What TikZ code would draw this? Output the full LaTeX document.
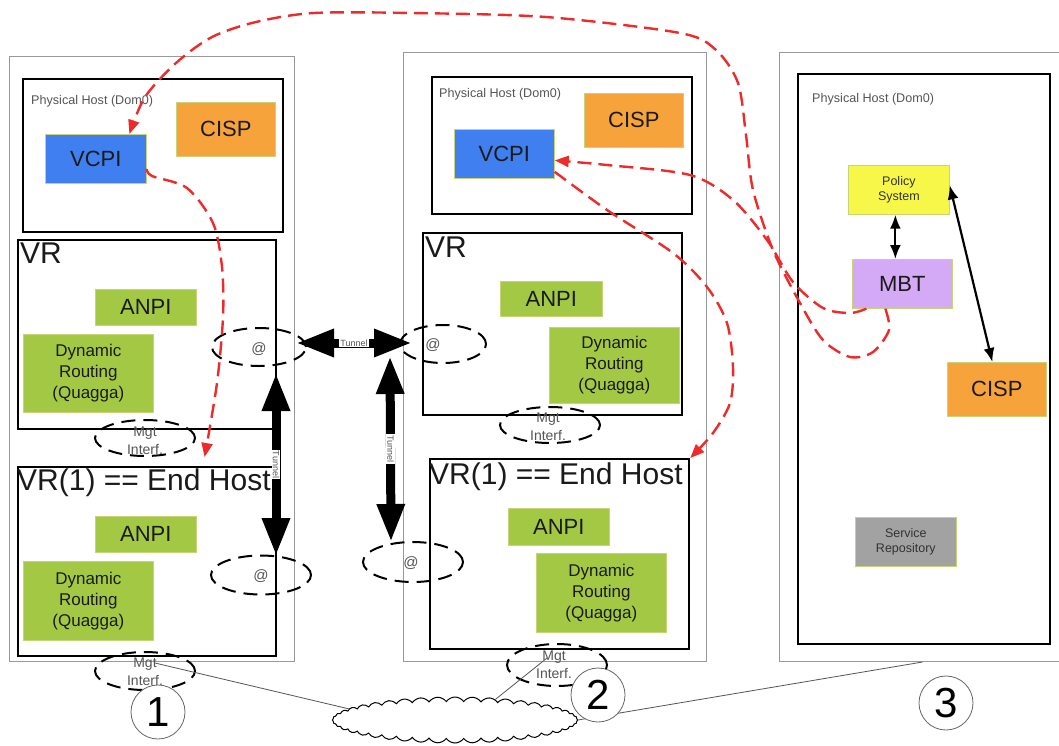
\documentclass[tikz,border=0pt]{standalone}
\usepackage{fontspec}
\setmainfont{Liberation Sans}
\usetikzlibrary{arrows.meta,shapes.geometric,shapes.symbols}
\newcommand\myfs[2]{\fontsize{#1}{#2}\selectfont}
\definecolor{vblue}{HTML}{3F7FEF}
\definecolor{corange}{HTML}{F7A33B}
\definecolor{agreen}{HTML}{A3C944}
\definecolor{pyellow}{HTML}{F7F74A}
\definecolor{mpurple}{HTML}{D4A9F5}
\definecolor{sgray}{HTML}{A2A2A2}
\definecolor{dred}{HTML}{EE2A2A}
\definecolor{txtgray}{HTML}{555555}
\definecolor{txtdark}{HTML}{1A1A1A}
\definecolor{outgray}{HTML}{999999}
\definecolor{edgeyel}{HTML}{C8D37A}
\definecolor{linegray}{HTML}{555555}
\definecolor{circgray}{HTML}{666666}
\begin{document}
\begin{tikzpicture}[x=1pt,y=-1pt,
  outerbox/.style={draw=outgray, line width=1pt, inner sep=0pt, anchor=north west},
  blkbox/.style={draw=black, line width=2.2pt, inner sep=0pt, anchor=north west},
  cbox/.style={draw=edgeyel, line width=0.7pt, inner sep=0pt, anchor=north west, text=txtdark, align=center},
  bigtxt/.style={font=\myfs{22}{26}},
  drtxt/.style={font=\myfs{17}{21}},
  smalltxt/.style={font=\myfs{12.5}{15}, text=txtgray!60!black},
  dashell/.style={ellipse, draw=black, line width=2pt, dash pattern=on 14pt off 8pt, inner sep=0pt},
  atlbl/.style={font=\myfs{15}{16}, text=txtgray, inner sep=0pt},
  mgtlbl/.style={font=\myfs{14}{18}, text=txtgray, align=center, inner sep=0pt},
  phlbl/.style={font=\myfs{12.6}{14}, text=txtgray, anchor=west, inner sep=0pt},
  ttl/.style={font=\myfs{30}{32}, anchor=base west, inner sep=0pt, text=txtdark},
  tunnel/.style={line width=9pt, {Triangle[length=38pt,width=26pt]}-{Triangle[length=38pt,width=26pt]}},
  tunlbl/.style={fill=white, inner sep=1pt, font=\myfs{9}{10}, text=txtgray},
  ctl/.style={draw=dred, line width=2.4pt, dash pattern=on 14pt off 7pt, -{Triangle[length=14pt,width=11pt]}},
  bidir/.style={line width=2.2pt, {Latex[length=14pt,width=11pt]}-{Latex[length=14pt,width=11pt]}},
  netline/.style={draw=linegray, line width=0.8pt},
  numcirc/.style={circle, draw=circgray, fill=white, line width=0.8pt, minimum size=54pt, inner sep=0pt, font=\myfs{42}{42}}
]
\useasboundingbox (0,0) rectangle (1059,745);
\fill[white] (0,0) rectangle (1059,745);

% outer hosts
\node[outerbox, minimum width=285pt, minimum height=605pt] (outA) at (9,56) {};
\node[outerbox, minimum width=303pt, minimum height=609pt] (outB) at (403,52) {};
\node[outerbox, minimum width=290pt, minimum height=609pt] (outC) at (779,52) {};

% cloud
\node[cloud, draw=black, fill=white, line width=1pt, cloud puffs=44, cloud puff arc=110, aspect=5.3, minimum width=245pt, minimum height=46pt, inner sep=0pt] (cloud) at (455,720) {};

% black boxes
\node[blkbox, minimum width=260pt, minimum height=153pt] (hostA) at (22,78) {};
\node[blkbox, minimum width=258pt, minimum height=189pt] (vrA) at (17,239) {};
\node[blkbox, minimum width=258pt, minimum height=189pt] (vrA1) at (17,466) {};
\node[blkbox, minimum width=260pt, minimum height=137pt] (hostB) at (431,76) {};
\node[blkbox, minimum width=259pt, minimum height=182pt] (vrB) at (422,232) {};
\node[blkbox, minimum width=259pt, minimum height=190pt] (vrB1) at (429,458) {};
\node[blkbox, minimum width=252pt, minimum height=570pt] (hostC) at (797,73) {};

% titles
\node[phlbl] (phA) at (31,101) {Physical Host (Dom0)};
\node[phlbl] (phB) at (439,94) {Physical Host (Dom0)};
\node[phlbl] (phC) at (812,99) {Physical Host (Dom0)};
\node[ttl] (tvrA) at (20,263) {VR};
\node[ttl] (tvrA1) at (17,490) {VR(1) == End Host};
\node[ttl] (tvrB) at (425,257) {VR};
\node[ttl] (tvrB1) at (429,484) {VR(1) == End Host};

% coloured boxes
\node[cbox, bigtxt, fill=vblue, minimum width=101pt, minimum height=49pt] (vcpiA) at (45,134) {VCPI};
\node[cbox, bigtxt, fill=corange, minimum width=99pt, minimum height=54pt] (cispA) at (176,102) {CISP};
\node[cbox, bigtxt, fill=agreen, minimum width=101pt, minimum height=36pt] (anpiA) at (95,289) {ANPI};
\node[cbox, drtxt, fill=agreen, minimum width=130pt, minimum height=78pt] (drA) at (23,334) {Dynamic\\Routing\\(Quagga)};
\node[cbox, bigtxt, fill=agreen, minimum width=101pt, minimum height=36pt] (anpiA1) at (95,516) {ANPI};
\node[cbox, drtxt, fill=agreen, minimum width=130pt, minimum height=79pt] (drA1) at (23,561) {Dynamic\\Routing\\(Quagga)};
\node[cbox, bigtxt, fill=vblue, minimum width=100pt, minimum height=49pt] (vcpiB) at (454,129) {VCPI};
\node[cbox, bigtxt, fill=corange, minimum width=99pt, minimum height=54pt] (cispB) at (584,93) {CISP};
\node[cbox, bigtxt, fill=agreen, minimum width=102pt, minimum height=35pt] (anpiB) at (500,281) {ANPI};
\node[cbox, drtxt, fill=agreen, minimum width=130pt, minimum height=76pt] (drB) at (549,327) {Dynamic\\Routing\\(Quagga)};
\node[cbox, bigtxt, fill=agreen, minimum width=101pt, minimum height=37pt] (anpiB1) at (508,508) {ANPI};
\node[cbox, drtxt, fill=agreen, minimum width=130pt, minimum height=79pt] (drB1) at (536,553) {Dynamic\\Routing\\(Quagga)};
\node[cbox, smalltxt, fill=pyellow, minimum width=101pt, minimum height=49pt] (policy) at (848,165) {Policy\\System};
\node[cbox, bigtxt, fill=mpurple, minimum width=100pt, minimum height=49pt] (mbt) at (852,259) {MBT};
\node[cbox, bigtxt, fill=corange, minimum width=99pt, minimum height=54pt] (cispC) at (947,362) {CISP};
\node[cbox, smalltxt, fill=sgray, minimum width=101pt, minimum height=49pt] (srep) at (855,517) {Service\\Repository};

% dashed interface ellipses
\node[dashell, minimum width=94pt, minimum height=38pt] (atA) at (259,347) {};
\node[dashell, minimum width=100pt, minimum height=36pt] (mgtA) at (145,438) {};
\node[dashell, minimum width=100pt, minimum height=39pt] (atA1) at (261,575) {};
\node[dashell, minimum width=100pt, minimum height=38pt] (mgtA1) at (145,671) {};
\node[dashell, minimum width=86pt, minimum height=38pt] (atB) at (443,344) {};
\node[dashell, minimum width=100pt, minimum height=36pt] (mgtB) at (550,425) {};
\node[dashell, minimum width=100pt, minimum height=40pt] (atB1) at (413,562) {};
\node[dashell, minimum width=100pt, minimum height=42pt] (mgtB1) at (557,665) {};

% network lines
\coordinate (n1s) at ([xshift=10pt,yshift=8pt]mgtA1.center);
\coordinate (n2s) at ([xshift=-10pt,yshift=7pt]mgtB1.center);
\coordinate (n3s) at ([xshift=-2pt]outC.south);
\draw[netline] (n1s) -- (cloud.174);
\draw[netline] (n2s) -- (cloud.27);
\draw[netline] (n3s) -- (cloud.east);

% numbered circles
\node[numcirc] (num1) at (158,712) {1};
\node[numcirc] (num2) at (598,695) {2};
\node[numcirc] (num3) at (946,703) {3};

% interface labels
\node[atlbl] (atAt) at (259,349) {@};
\node[atlbl] (atA1t) at (261,576) {@};
\node[atlbl] (atBt) at (433,345) {@};
\node[atlbl] (atB1t) at (411,563) {@};
\node[mgtlbl] (mgtAt) at (145,441) {Mgt\\Interf.};
\node[mgtlbl] (mgtA1t) at (145,672) {Mgt\\Interf.};
\node[mgtlbl] (mgtBt) at (548,427) {Mgt\\Interf.};
\node[mgtlbl] (mgtB1t) at (554,665) {Mgt\\Interf.};

% tunnels
\draw[tunnel] ([xshift=-11pt,yshift=4pt]atA.east) -- node[tunlbl] {Tunnel} ([xshift=13pt,yshift=1pt]atB.west);
\draw[tunnel] ([xshift=17pt,yshift=-6pt]atA.south) -- node[tunlbl, rotate=-90] {Tunnel} ([xshift=15pt,yshift=-1.5pt]atA1.north);
\draw[tunnel] ([xshift=-9pt,yshift=-12pt]atB.west) -- node[tunlbl, rotate=-90] {Tunnel} ([xshift=-22pt,yshift=-1pt]atB1.north);

% box 3 links
\draw[bidir] ([xshift=-3.5pt]policy.south) -- ([xshift=-7pt]mbt.north);
\draw[bidir] ([yshift=4.5pt]policy.east) -- ([xshift=-4.5pt]cispC.north);

% red control flows
\coordinate (aS) at ([xshift=-17pt]mbt.south);
\coordinate (aE) at ([xshift=33.5pt]vcpiA.north);
\coordinate (bS) at ([xshift=-36pt]mbt.south);
\coordinate (bE) at ([yshift=-6.5pt]vcpiB.east);
\coordinate (cS) at ([yshift=-18pt]vcpiB.east);
\coordinate (cE) at (vrB1.north east);
\coordinate (dS) at ([yshift=-10pt]vcpiA.east);
\coordinate (dE) at ([xshift=57.5pt,yshift=9pt]vrA1.north);
\draw[ctl] plot[smooth] coordinates {(aS) (889,330) (873,352) (850,357) (823,340) (800,303) (773,250) (753,190) (746,135) (738,83) (716,50) (680,33) (546,17) (412,13) (314,13) (256,22) (212,37) (176,63) (145,97) (aE)};
\draw[ctl] plot[smooth] coordinates {(bS) (850,313) (823,308) (793,282) (767,240) (733,200) (690,175) (607,165) (bE)};
\draw[ctl] plot[smooth] coordinates {(cS) (607,210) (673,253) (707,287) (727,323) (733,367) (730,403) (713,433) (cE)};
\draw[ctl] plot[smooth] coordinates {(dS) (152,176) (187,188) (213,223) (222,267) (223,317) (217,383) (dE)};
\end{tikzpicture}
\end{document}
